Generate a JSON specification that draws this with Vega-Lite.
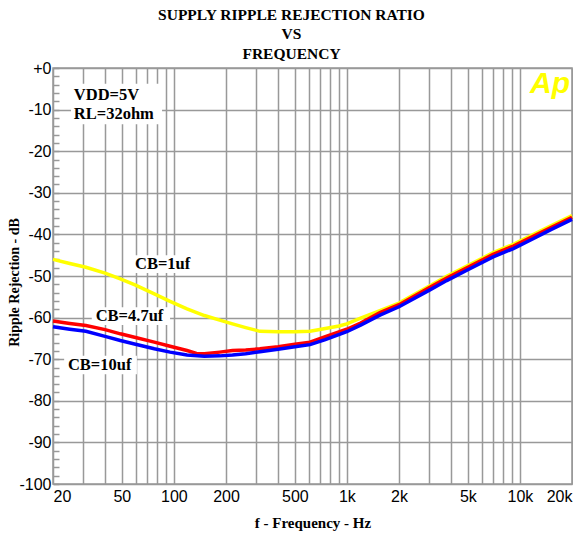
{
  "$schema": "https://vega.github.io/schema/vega-lite/v6.json",
  "width": 519,
  "height": 416,
  "autosize": {"type": "none"},
  "padding": {"left": 53, "top": 68, "right": 1, "bottom": 58},
  "background": "white",
  "config": {
    "view": {"stroke": "#999999", "strokeWidth": 1.5},
    "axis": {
      "labelFont": "Liberation Sans",
      "labelFontSize": 16,
      "labelColor": "black",
      "titleFont": "Liberation Serif",
      "titleFontWeight": "bold",
      "titleFontSize": 15,
      "titleColor": "black",
      "gridColor": "#999999",
      "gridWidth": 1.5,
      "domain": false
    }
  },
  "title": {
    "text": ["SUPPLY RIPPLE REJECTION RATIO", "\u00a0\u00a0\u00a0VS", "\u00a0\u00a0\u00a0\u00a0\u00a0\u00a0FREQUENCY"],
    "font": "Liberation Serif",
    "fontSize": 15.5,
    "fontWeight": "bold",
    "color": "black",
    "anchor": "middle",
    "frame": "group",
    "dx": -21,
    "offset": -2,
    "lineHeight": 19.5
  },
  "datasets": {
    "cb1": [
      {"f": 20, "db": -46.0}, {"f": 25, "db": -47.0}, {"f": 31, "db": -47.9}, {"f": 40, "db": -49.3},
      {"f": 49, "db": -50.7}, {"f": 60, "db": -52.2}, {"f": 77, "db": -54.3}, {"f": 95, "db": -56.1},
      {"f": 119, "db": -57.9}, {"f": 150, "db": -59.5}, {"f": 184, "db": -60.6}, {"f": 218, "db": -61.5},
      {"f": 260, "db": -62.4}, {"f": 314, "db": -63.3}, {"f": 400, "db": -63.4}, {"f": 500, "db": -63.4},
      {"f": 612, "db": -63.3}, {"f": 750, "db": -62.6}, {"f": 900, "db": -62.0}, {"f": 998, "db": -61.5},
      {"f": 1191, "db": -60.2}, {"f": 1552, "db": -58.3}, {"f": 2000, "db": -56.5}, {"f": 3000, "db": -52.4},
      {"f": 3774, "db": -50.1}, {"f": 5000, "db": -47.5}, {"f": 7000, "db": -44.4}, {"f": 9162, "db": -42.4},
      {"f": 12000, "db": -40.0}, {"f": 15000, "db": -38.0}, {"f": 20000, "db": -35.5}
    ],
    "cb47": [
      {"f": 20, "db": -60.8}, {"f": 25, "db": -61.4}, {"f": 31, "db": -61.9}, {"f": 40, "db": -62.9},
      {"f": 49, "db": -63.9}, {"f": 60, "db": -64.8}, {"f": 77, "db": -65.9}, {"f": 95, "db": -66.9},
      {"f": 119, "db": -67.9}, {"f": 135, "db": -68.6}, {"f": 150, "db": -68.7}, {"f": 184, "db": -68.3},
      {"f": 218, "db": -67.9}, {"f": 260, "db": -67.8}, {"f": 314, "db": -67.5}, {"f": 400, "db": -67.0},
      {"f": 500, "db": -66.4}, {"f": 612, "db": -65.9}, {"f": 750, "db": -64.6}, {"f": 998, "db": -62.8},
      {"f": 1200, "db": -61.3}, {"f": 1552, "db": -58.8}, {"f": 2000, "db": -56.9}, {"f": 3000, "db": -52.8},
      {"f": 3774, "db": -50.5}, {"f": 5000, "db": -47.9}, {"f": 7000, "db": -44.8}, {"f": 9162, "db": -42.8},
      {"f": 12000, "db": -40.4}, {"f": 15000, "db": -38.4}, {"f": 20000, "db": -35.9}
    ],
    "cb10": [
      {"f": 20, "db": -62.2}, {"f": 25, "db": -62.8}, {"f": 31, "db": -63.3}, {"f": 40, "db": -64.5},
      {"f": 49, "db": -65.5}, {"f": 60, "db": -66.4}, {"f": 77, "db": -67.5}, {"f": 95, "db": -68.3},
      {"f": 119, "db": -69.0}, {"f": 150, "db": -69.3}, {"f": 184, "db": -69.2}, {"f": 218, "db": -69.0},
      {"f": 260, "db": -68.7}, {"f": 314, "db": -68.2}, {"f": 400, "db": -67.6}, {"f": 500, "db": -67.0},
      {"f": 612, "db": -66.5}, {"f": 750, "db": -65.3}, {"f": 998, "db": -63.4}, {"f": 1200, "db": -61.8},
      {"f": 1552, "db": -59.4}, {"f": 2000, "db": -57.4}, {"f": 3000, "db": -53.4}, {"f": 3774, "db": -51.1},
      {"f": 5000, "db": -48.5}, {"f": 7000, "db": -45.4}, {"f": 9162, "db": -43.4}, {"f": 12000, "db": -41.0},
      {"f": 15000, "db": -38.9}, {"f": 20000, "db": -36.4}
    ],
    "boxes": [
      {"f": 25.4, "f2": 85.4, "db": -3.8, "db2": -13.5},
      {"f": 56.5, "f2": 132, "db": -45.0, "db2": -49.3},
      {"f": 33.5, "f2": 95, "db": -57.5, "db2": -61.8},
      {"f": 23.2, "f2": 61.1, "db": -69.2, "db2": -73.6}
    ],
    "labels": [
      {"f": 26.4, "db": -6.5, "label": "VDD=5V"},
      {"f": 26.4, "db": -11.1, "label": "RL=32ohm"},
      {"f": 59.6, "db": -47.1, "label": "CB=1uf"},
      {"f": 35.3, "db": -59.6, "label": "CB=4.7uf"},
      {"f": 24.4, "db": -71.4, "label": "CB=10uf"}
    ],
    "logo": [
      {"f": 14930, "db": -6.0, "label": "Ap"}
    ]
  },
  "encoding": {
    "x": {
      "field": "f",
      "type": "quantitative",
      "scale": {"type": "log", "domain": [20, 20000], "nice": false},
      "axis": {
        "title": "f - Frequency - Hz",
        "titlePadding": 11,
        "values": [20, 30, 40, 50, 60, 70, 80, 90, 100, 200, 300, 400, 500, 600, 700, 800, 900, 1000, 2000, 3000, 4000, 5000, 6000, 7000, 8000, 9000, 10000, 20000],
        "labelExpr": "indexof([20, 50, 100, 200, 500, 1000, 2000, 5000, 10000, 20000], datum.value) >= 0 ? (datum.value >= 1000 ? (datum.value / 1000) + 'k' : '' + datum.value) : ''",
        "labelOverlap": false,
        "labelFlush": true,
        "labelPadding": 4,
        "ticks": false,
        "grid": true
      }
    },
    "y": {
      "field": "db",
      "type": "quantitative",
      "scale": {"domain": [-100, 0], "nice": false},
      "axis": {
        "title": "Ripple Rejection - dB",
        "titleFontSize": 14,
        "titleX": -38.5,
        "titleY": 214,
        "titleBaseline": "middle",
        "titleAngle": -90,
        "values": [-100, -98, -96, -94, -92, -90, -88, -86, -84, -82, -80, -78, -76, -74, -72, -70, -68, -66, -64, -62, -60, -58, -56, -54, -52, -50, -48, -46, -44, -42, -40, -38, -36, -34, -32, -30, -28, -26, -24, -22, -20, -18, -16, -14, -12, -10, -8, -6, -4, -2, 0],
        "labelExpr": "datum.value % 10 === 0 ? (datum.value === 0 ? '+0' : '' + datum.value) : ''",
        "labelOverlap": false,
        "labelPadding": 8,
        "tickSize": -6,
        "tickColor": "#999999",
        "tickWidth": 1.5,
        "grid": true,
        "gridOpacity": {"condition": {"test": "datum.value % 10 === 0", "value": 1}, "value": 0}
      }
    }
  },
  "layer": [
    {
      "data": {"name": "boxes"},
      "mark": {"type": "rect", "fill": "white"},
      "encoding": {"x2": {"field": "f2"}, "y2": {"field": "db2"}}
    },
    {
      "data": {"name": "cb1"},
      "mark": {"type": "line", "color": "#ffff00", "strokeWidth": 3.5}
    },
    {
      "data": {"name": "cb47"},
      "mark": {"type": "line", "color": "#ff0000", "strokeWidth": 3.5}
    },
    {
      "data": {"name": "cb10"},
      "mark": {"type": "line", "color": "#0000ff", "strokeWidth": 3.5}
    },
    {
      "data": {"name": "labels"},
      "mark": {"type": "text", "align": "left", "baseline": "middle", "font": "Liberation Serif", "fontWeight": "bold", "fontSize": 16.5, "color": "black"},
      "encoding": {"text": {"field": "label"}}
    },
    {
      "data": {"name": "logo"},
      "mark": {"type": "text", "align": "center", "baseline": "alphabetic", "font": "Liberation Sans", "fontWeight": "bold", "fontStyle": "italic", "fontSize": 30, "color": "#ffff00"},
      "encoding": {"text": {"field": "label"}}
    }
  ]
}
